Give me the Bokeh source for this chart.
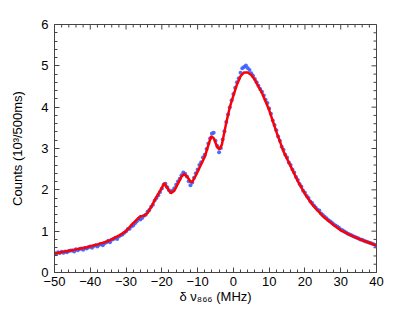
from bokeh.plotting import figure
from bokeh.models import FixedTicker, Range1d
from bokeh.embed import file_html
from bokeh.resources import INLINE
import math

# ---- data ----
x_ticks = [-50, -40, -30, -20, -10, 0, 10, 20, 30, 40]
y_ticks = [0, 1, 2, 3, 4, 5, 6]

fit_x = [-50, -47, -44, -41, -38, -35, -32, -30, -28.5, -27, -26, -25, -24, -23, -22, -21,
         -20, -19.3, -18.5, -17.5, -16.5, -15.5, -14.5, -13.8, -13, -12, -11.5, -10.5, -9,
         -8, -7, -6.2, -5.5, -4.5, -3.9, -3.2, -2, -1, 0, 1, 2, 3, 4, 5, 6, 7, 8, 10, 12,
         14, 16, 18, 20, 22, 25, 28, 30, 33, 36, 38, 40]
fit_y = [0.46, 0.51, 0.56, 0.61, 0.68, 0.76, 0.89, 1.00, 1.15, 1.28, 1.36, 1.37, 1.44, 1.58,
         1.75, 1.90, 2.05, 2.16, 2.05, 1.92, 1.98, 2.15, 2.32, 2.38, 2.33, 2.20, 2.19, 2.35,
         2.62, 2.80, 3.08, 3.30, 3.25, 3.03, 2.98, 3.10, 3.62, 4.00, 4.28, 4.55, 4.75, 4.84,
         4.84, 4.78, 4.66, 4.50, 4.34, 3.93, 3.41, 2.93, 2.57, 2.21, 1.90, 1.65, 1.36, 1.15,
         1.02, 0.89, 0.78, 0.72, 0.65]

data_x_start = -50
data_x_step = 0.5
data_y = [
    0.47, 0.45, 0.49, 0.47, 0.50, 0.48, 0.51, 0.49, 0.52, 0.53,
    0.53, 0.51, 0.56, 0.54, 0.57, 0.58, 0.55, 0.59, 0.58, 0.61,
    0.63, 0.60, 0.64, 0.66, 0.63, 0.67, 0.69, 0.66, 0.71, 0.73,
    0.77, 0.73, 0.79, 0.81, 0.84, 0.81, 0.87, 0.90, 0.92, 0.96,
    1.00, 1.05, 1.06, 1.12, 1.14, 1.19, 1.24, 1.30, 1.28, 1.32,
    1.37, 1.40, 1.47, 1.51, 1.59, 1.64, 1.74, 1.80, 1.87, 1.95,
    2.03, 2.12, 2.15, 2.06, 1.99, 1.95, 1.98, 2.04, 2.12, 2.20,
    2.27, 2.35, 2.42, 2.39, 2.32, 2.21, 2.11, 2.18, 2.29, 2.40,
    2.49, 2.60, 2.67, 2.78, 2.85, 2.99, 3.12, 3.24, 3.36, 3.38,
    3.19, 3.06, 2.91, 3.01, 3.22, 3.42, 3.64, 3.82, 4.00, 4.17,
    4.32, 4.47, 4.60, 4.70, 4.83, 4.94, 4.97, 5.01, 4.95, 4.90,
    4.82, 4.76, 4.68, 4.60, 4.52, 4.44, 4.37, 4.28, 4.18, 4.10,
    3.97, 3.84, 3.68, 3.57, 3.44, 3.29, 3.19, 3.04, 2.97, 2.85,
    2.78, 2.66, 2.60, 2.49, 2.42, 2.31, 2.24, 2.14, 2.08, 1.98,
    1.93, 1.85, 1.80, 1.72, 1.68, 1.62, 1.57, 1.52, 1.50, 1.43,
    1.39, 1.35, 1.31, 1.27, 1.24, 1.21, 1.17, 1.14, 1.11, 1.08,
    1.04, 1.02, 0.99, 0.97, 0.94, 0.92, 0.90, 0.88, 0.86, 0.84,
    0.82, 0.80, 0.79, 0.77, 0.75, 0.74, 0.72, 0.71, 0.69, 0.67,
    0.63,
]
data_x = [data_x_start + i * data_x_step for i in range(len(data_y))]

# ---- figure ----
FONT = "Liberation Sans"
AX = "#444444"

x0, x1 = x_ticks[0], x_ticks[-1]
y0, y1 = y_ticks[0], y_ticks[-1]

p = figure(width=415, height=313, x_range=Range1d(x0, x1), y_range=Range1d(y0, y1),
           output_backend="svg", toolbar_location=None,
           min_border_left=54, min_border_right=39, min_border_top=24, min_border_bottom=41)
p.grid.visible = False
p.outline_line_color = AX
p.background_fill_color = "white"
p.border_fill_color = "white"


def minor_of(ticks):
    out = []
    for a, b in zip(ticks[:-1], ticks[1:]):
        step = (b - a) / 5
        out += [a + step * k for k in range(1, 5)]
    return out


def lab(v):
    return str(v).replace("-", "\u2212")


xminor = minor_of(x_ticks)
yminor = minor_of(y_ticks)

p.xaxis.ticker = FixedTicker(ticks=x_ticks, minor_ticks=xminor)
p.yaxis.ticker = FixedTicker(ticks=y_ticks, minor_ticks=yminor)

for ax in list(p.xaxis) + list(p.yaxis):
    ax.axis_line_color = AX
    ax.major_tick_line_color = AX
    ax.minor_tick_line_color = AX
    ax.major_tick_in = 5
    ax.major_tick_out = 0
    ax.minor_tick_in = 3
    ax.minor_tick_out = 0
    ax.major_label_text_font = FONT
    ax.major_label_text_font_size = "13px"
    ax.major_label_text_color = "black"
    ax.axis_label_text_font = FONT
    ax.axis_label_text_font_size = "13px"
    ax.axis_label_text_font_style = "normal"
    ax.axis_label_text_color = "black"

p.xaxis.major_label_overrides = {t: lab(t) for t in x_ticks}
p.yaxis.major_label_overrides = {t: lab(t) for t in y_ticks}
p.xaxis.major_label_standoff = 4
p.xaxis.axis_label_standoff = 0
p.yaxis.major_label_standoff = 6
p.yaxis.axis_label_standoff = 13
p.xaxis.axis_label = "\u03b4 \u03bd\u2088\u2086\u2086 (MHz)"
p.yaxis.axis_label = "Counts (10\u00b3/500ms)"

# mirrored inward ticks on the top and right edges (clipped to the frame)
p.scatter(x_ticks, [y1] * len(x_ticks), marker="dash", size=10, angle=math.pi / 2,
          line_color=AX, line_width=1)
p.scatter(xminor, [y1] * len(xminor), marker="dash", size=6, angle=math.pi / 2,
          line_color=AX, line_width=1)
p.scatter([x1] * len(y_ticks), y_ticks, marker="dash", size=10,
          line_color=AX, line_width=1)
p.scatter([x1] * len(yminor), yminor, marker="dash", size=6,
          line_color=AX, line_width=1)

p.scatter(data_x, data_y, size=4, color="#3a5cff", line_color=None, alpha=0.9)
p.line(fit_x, fit_y, line_color="#ff0000", line_width=2.5)

open("out.html", "w").write(file_html(p, INLINE))
